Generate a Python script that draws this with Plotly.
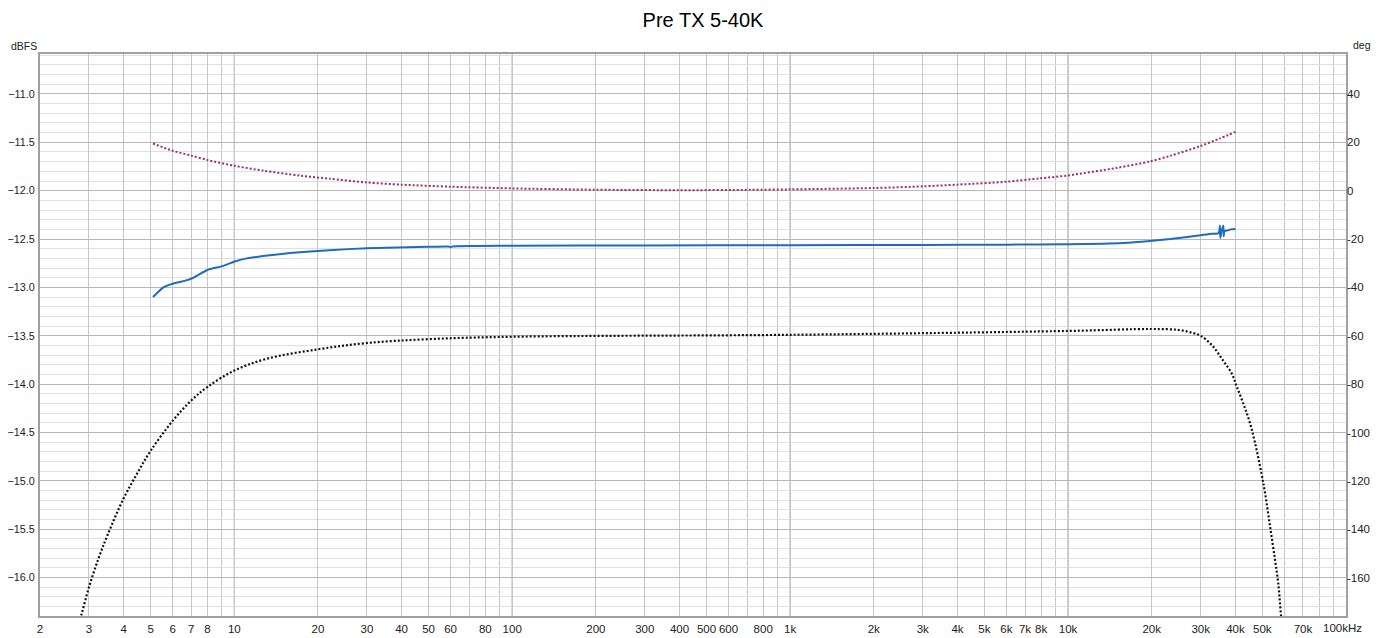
import math
import plotly.graph_objects as go

title = "Pre TX 5-40K"

# Blue solid: magnitude (dBFS, left axis)
mag_f = [5.1, 5.56, 6.04, 6.67, 7.12, 8.0, 9.06, 10.1, 11.1, 12.7, 15.9, 22, 30, 50, 59, 60, 61,
         100, 300, 1000, 3000, 6000, 10000, 15800, 19700, 23300, 30000, 33000, 34800, 35200, 35300,
         35600, 36200, 36300, 36500, 37500, 38500, 40000]
mag_db = [-13.10, -13.00, -12.96, -12.93, -12.90, -12.82, -12.78, -12.73, -12.70, -12.675, -12.645,
          -12.615, -12.595, -12.58, -12.577, -12.585, -12.577, -12.57, -12.566, -12.563, -12.561,
          -12.558, -12.553, -12.54, -12.52, -12.50, -12.46, -12.445, -12.44, -12.36, -12.49,
          -12.43, -12.36, -12.47, -12.42, -12.41, -12.40, -12.395]

# Purple dotted: phase (deg, right axis)
phase_f = [5.1, 6, 7, 8, 10, 12.7, 17.3, 22, 30, 40, 60, 100, 200, 400, 720, 1000, 2000, 3000,
           4000, 6000, 7900, 10000, 14900, 19700, 23300, 30000, 35000, 40000]
phase_deg = [19.5, 16.5, 14.5, 12.7, 10.3, 8.3, 6.2, 4.95, 3.4, 2.5, 1.65, 0.95, 0.4, 0.2, 0.35,
             0.55, 1.1, 1.8, 2.5, 3.7, 5.1, 6.3, 9.4, 12.1, 14.4, 18.5, 21.5, 24.3]

# Black dotted: reference magnitude (dBFS, left axis)
ref_f = [2.7, 2.82, 3.0, 3.25, 3.5, 4.0, 4.5, 5.0, 6.0, 7.0, 8.0, 10, 13, 20, 30, 50, 100, 1000,
         10000, 20000, 25000, 28000, 30000, 33000, 36000, 38800, 40400, 42700, 44900, 47000,
         49700, 51100, 53300, 55500, 57000, 58000, 59000]
ref_db = [-16.55, -16.38, -16.10, -15.80, -15.56, -15.18, -14.91, -14.69, -14.38, -14.17, -14.03,
          -13.86, -13.74, -13.64, -13.575, -13.535, -13.51, -13.49, -13.45, -13.43, -13.44,
          -13.47, -13.50, -13.60, -13.75, -13.89, -14.02, -14.20, -14.38, -14.60, -14.93, -15.12,
          -15.47, -15.81, -16.05, -16.30, -16.55]

x_tick_vals = [2, 3, 4, 5, 6, 7, 8, 10, 20, 30, 40, 50, 60, 80, 100, 200, 300, 400, 500, 600,
               800, 1000, 2000, 3000, 4000, 5000, 6000, 7000, 8000, 10000, 20000, 30000, 40000,
               50000, 70000]
x_tick_text = ["2", "3", "4", "5", "6", "7", "8", "10", "20", "30", "40", "50", "60", "80", "100",
               "200", "300", "400", "500", "600", "800", "1k", "2k", "3k", "4k", "5k", "6k", "7k",
               "8k", "10k", "20k", "30k", "40k", "50k", "70k"]
x_minor_vals = [9, 70, 90, 700, 900, 9000, 60000, 80000, 90000]
decades = [10, 100, 1000, 10000]
y_right_ticks = [40, 20, 0, -20, -40, -60, -80, -100, -120, -140, -160]

y_lo, y_hi = -16.397, -10.587
font = "Liberation Sans, Arial, sans-serif"
clear = "rgba(0,0,0,0)"

fig = go.Figure()
fig.add_trace(go.Scatter(x=ref_f, y=ref_db, mode="lines", yaxis="y",
                         line=dict(color="#111111", width=2.2, dash="2px,2px", shape="spline",
                                   smoothing=1.0)))
fig.add_trace(go.Scatter(x=phase_f, y=phase_deg, mode="lines", yaxis="y2",
                         line=dict(color="#9b2f6a", width=2, dash="2px,2px", shape="spline",
                                   smoothing=0.8)))
fig.add_trace(go.Scatter(x=mag_f, y=mag_db, mode="lines", yaxis="y",
                         line=dict(color="#1d6cbf", width=2, shape="spline", smoothing=0.5)))

for d in decades:
    fig.add_shape(type="line", xref="x", yref="paper", x0=d, x1=d, y0=0, y1=1,
                  line=dict(color="#8c8c8c", width=1), layer="between")

fig.update_layout(
    width=1390, height=630,
    margin=dict(l=32, r=52, t=46, b=22, autoexpand=False),
    paper_bgcolor="white", plot_bgcolor="white",
    showlegend=False,
    font=dict(family=font, size=11.5, color="#222222"),
    title=dict(text=title, x=0.5, xanchor="center", y=0.981, yanchor="middle",
               font=dict(family=font, size=20, color="#000000")),
    xaxis=dict(type="log", range=[math.log10(2), 5], tickmode="array",
               tickvals=x_tick_vals, ticktext=x_tick_text,
               ticks="outside", ticklen=1, tickcolor=clear, automargin=False,
               showgrid=True, gridcolor="#c8c8c8", gridwidth=1,
               minor=dict(tickmode="array", tickvals=x_minor_vals, showgrid=True,
                          gridcolor="#c8c8c8", ticks=""),
               showline=True, linecolor="#a0a0a0", linewidth=2, mirror=True,
               zeroline=False, tickfont=dict(size=11.5, color="#222222")),
    yaxis=dict(range=[y_lo, y_hi], tickmode="linear", tick0=-11.0, dtick=0.5,
               tickformat=".1f", ticks="outside", ticklen=1, tickcolor=clear,
               automargin=False,
               showgrid=True, gridcolor="#b8b8b8", gridwidth=1,
               minor=dict(tick0=-11.0, dtick=0.1, showgrid=True, gridcolor="#e0e0e0"),
               showline=True, linecolor="#a0a0a0", linewidth=2, mirror=True,
               zeroline=False, tickfont=dict(size=10.8, color="#222222")),
    yaxis2=dict(range=[(y_lo + 12) * 40, (y_hi + 12) * 40], overlaying="y", side="right",
                tickmode="array", tickvals=y_right_ticks,
                ticktext=[str(v) for v in y_right_ticks], ticks="", automargin=False,
                showgrid=False, zeroline=False, showline=False,
                tickfont=dict(size=11.5, color="#222222")),
    annotations=[
        dict(text="dBFS", xref="paper", yref="paper", x=0, y=1, xshift=-31, yshift=8,
             xanchor="left", yanchor="middle", showarrow=False, font=dict(size=10.5)),
        dict(text="deg", xref="paper", yref="paper", x=1, y=1, xshift=5, yshift=9,
             xanchor="left", yanchor="middle", showarrow=False, font=dict(size=10.5)),
        dict(text="100kHz", xref="paper", yref="paper", x=1, y=0, xshift=-4, yshift=-12,
             xanchor="center", yanchor="middle", showarrow=False, font=dict(size=11.5)),
    ],
)

fig.write_html("out.html")
